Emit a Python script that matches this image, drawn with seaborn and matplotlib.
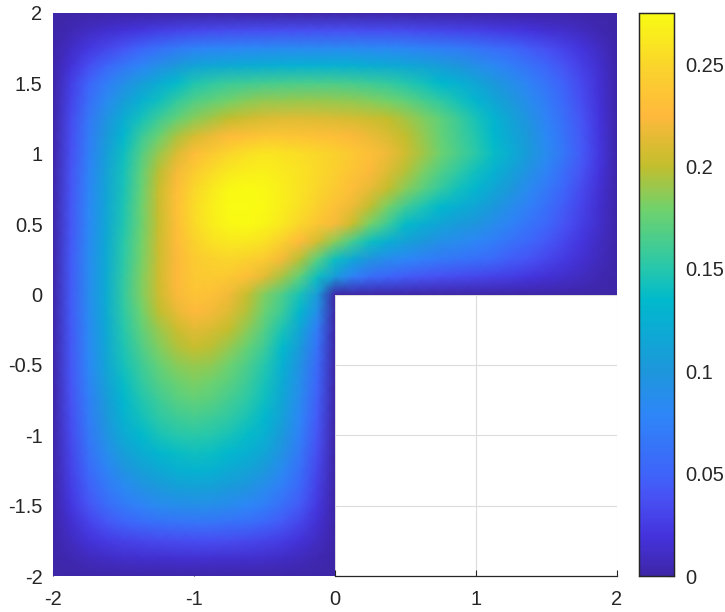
import numpy as np
import pandas as pd
import matplotlib.pyplot as plt
from matplotlib.colors import LinearSegmentedColormap
from matplotlib.patches import Polygon
import seaborn as sns

# grid axes of the surface (step 0.125)
x_values = [-2, -1.875, -1.75, -1.625, -1.5, -1.375, -1.25, -1.125, -1, -0.875, -0.75, -0.625, -0.5,
            -0.375, -0.25, -0.125, 0, 0.125, 0.25, 0.375, 0.5, 0.625, 0.75, 0.875, 1, 1.125, 1.25,
            1.375, 1.5, 1.625, 1.75, 1.875, 2]
y_values = x_values[::-1]

# values, y = 2 down to y = 0, full width
upper_rows = [
    [0] * 33,
    [0, .005, .010, .014, .018, .022, .026, .030, .033, .034, .035, .036, .036, .037, .037, .037, .037, .037, .036, .036, .035, .033, .032, .030, .028, .025, .023, .020, .016, .013, .009, .004, 0],
    [0, .011, .022, .031, .040, .050, .060, .068, .075, .078, .080, .081, .082, .083, .083, .083, .083, .083, .082, .081, .079, .076, .073, .069, .064, .058, .052, .045, .037, .029, .020, .010, 0],
    [0, .018, .036, .051, .065, .078, .091, .102, .112, .117, .120, .122, .124, .125, .126, .126, .126, .125, .123, .120, .117, .112, .106, .099, .091, .082, .072, .062, .051, .039, .027, .014, 0],
    [0, .026, .050, .071, .090, .107, .122, .136, .148, .154, .158, .161, .163, .164, .165, .165, .165, .163, .160, .156, .150, .143, .135, .126, .115, .103, .090, .077, .063, .048, .033, .017, 0],
    [0, .030, .058, .083, .106, .125, .141, .155, .167, .174, .180, .185, .188, .189, .190, .190, .189, .187, .184, .180, .173, .164, .154, .143, .130, .116, .101, .086, .070, .053, .036, .018, 0],
    [0, .034, .065, .095, .122, .143, .160, .174, .185, .193, .200, .206, .210, .212, .212, .211, .210, .208, .205, .200, .193, .183, .172, .159, .145, .129, .112, .095, .077, .059, .040, .020, 0],
    [0, .036, .069, .102, .132, .157, .177, .194, .208, .218, .227, .232, .236, .236, .234, .232, .229, .224, .218, .210, .200, .188, .175, .162, .149, .134, .117, .100, .081, .062, .042, .021, 0],
    [0, .037, .072, .107, .140, .167, .190, .210, .228, .240, .250, .256, .260, .258, .255, .251, .246, .239, .230, .219, .206, .192, .178, .165, .152, .138, .122, .104, .085, .065, .044, .022, 0],
    [0, .039, .076, .110, .143, .172, .198, .221, .241, .253, .263, .266, .267, .263, .258, .252, .244, .235, .224, .211, .197, .182, .167, .154, .141, .127, .111, .094, .077, .058, .039, .020, 0],
    [0, .040, .078, .112, .145, .175, .203, .228, .250, .263, .272, .274, .272, .266, .258, .250, .240, .228, .215, .200, .185, .170, .155, .142, .130, .116, .100, .084, .068, .051, .034, .017, 0],
    [0, .041, .080, .114, .147, .177, .204, .230, .253, .266, .274, .276, .273, .266, .256, .245, .233, .217, .199, .181, .161, .147, .134, .124, .114, .102, .088, .074, .060, .045, .030, .015, 0],
    [0, .041, .080, .115, .148, .177, .203, .229, .252, .265, .272, .274, .270, .262, .250, .237, .222, .203, .180, .158, .137, .124, .113, .105, .098, .088, .076, .064, .052, .039, .026, .013, 0],
    [0, .042, .082, .118, .151, .179, .205, .227, .247, .257, .262, .262, .257, .244, .226, .207, .185, .162, .140, .124, .110, .100, .091, .085, .079, .071, .061, .052, .042, .032, .021, .010, 0],
    [0, .043, .083, .119, .152, .180, .205, .224, .240, .247, .250, .247, .240, .221, .197, .170, .140, .117, .097, .087, .080, .074, .068, .064, .060, .054, .046, .040, .032, .024, .016, .008, 0],
    [0, .044, .084, .120, .154, .182, .206, .225, .239, .241, .238, .230, .213, .193, .172, .140, .105, .075, .058, .050, .045, .040, .037, .034, .032, .029, .025, .021, .017, .013, .009, .004, 0],
    [0, .044, .085, .121, .155, .182, .205, .223, .235, .231, .220, .203, .183, .166, .145, .105, 0, 0, 0, 0, 0, 0, 0, 0, 0, 0, 0, 0, 0, 0, 0, 0, 0],
]

# y = -0.125 down to y = -2, only x <= 0 is part of the domain
lower_rows = [
    [0, .043, .084, .120, .153, .178, .199, .215, .225, .221, .211, .196, .177, .158, .132, .090, 0],
    [0, .042, .082, .118, .150, .172, .190, .204, .213, .209, .200, .186, .168, .146, .115, .070, 0],
    [0, .042, .081, .116, .147, .166, .183, .195, .202, .198, .189, .176, .159, .136, .105, .062, 0],
    [0, .041, .080, .113, .143, .160, .175, .185, .190, .187, .178, .166, .150, .126, .095, .055, 0],
    [0, .040, .077, .109, .138, .154, .168, .177, .182, .178, .170, .160, .145, .121, .090, .051, 0],
    [0, .038, .073, .104, .133, .148, .160, .169, .173, .170, .162, .153, .140, .116, .085, .047, 0],
    [0, .036, .070, .099, .127, .142, .153, .160, .163, .160, .154, .146, .133, .110, .080, .044, 0],
    [0, .034, .066, .094, .120, .134, .145, .150, .152, .150, .145, .137, .125, .103, .075, .040, 0],
    [0, .031, .061, .086, .108, .122, .132, .138, .141, .139, .133, .125, .114, .094, .068, .036, 0],
    [0, .028, .054, .076, .095, .108, .118, .125, .128, .126, .120, .112, .102, .083, .060, .032, 0],
    [0, .025, .047, .066, .082, .093, .102, .107, .110, .108, .103, .096, .087, .071, .052, .027, 0],
    [0, .021, .040, .055, .068, .077, .085, .088, .090, .089, .085, .080, .072, .059, .043, .022, 0],
    [0, .015, .029, .040, .049, .055, .060, .062, .063, .063, .060, .057, .051, .042, .031, .016, 0],
    [0, .009, .018, .024, .029, .032, .034, .035, .036, .036, .035, .033, .030, .025, .018, .010, 0],
    [0, .004, .008, .011, .013, .014, .015, .016, .016, .016, .015, .015, .013, .011, .008, .004, 0],
    [0] * 17,
]

x_ticks = [-2, -1, 0, 1, 2]
y_ticks = [-2, -1.5, -1, -0.5, 0, 0.5, 1, 1.5, 2]
cbar_ticks = [0, 0.05, 0.1, 0.15, 0.2, 0.25]
cbar_labels = ['0', '0.05', '0.1', '0.15', '0.2', '0.25']

# parula-like colormap, colours picked from the colorbar
parula_pos = [0, .07, .14, .18, .29, .36, .49, .55, .65, .73, .82, .90, 1]
parula_rgb = [(62, 38, 168), (68, 51, 221), (72, 82, 244), (62, 100, 250), (45, 135, 247),
              (30, 150, 220), (0, 185, 205), (40, 200, 170), (110, 210, 110), (195, 190, 45),
              (255, 185, 60), (250, 210, 45), (249, 251, 20)]
parula = LinearSegmentedColormap.from_list(
    'parula', [(p, tuple(c / 255 for c in rgb)) for p, rgb in zip(parula_pos, parula_rgb)], N=256)

sns.set_theme(style='white')
plt.rcParams['font.family'] = ['Liberation Sans', 'DejaVu Sans']
text_color = '#262626'

rows = upper_rows + [r + [np.nan] * 16 for r in lower_rows]
df = pd.DataFrame(rows, index=y_values, columns=x_values)

fig = plt.figure(figsize=(7.25, 6.12), dpi=100)
ax = fig.add_axes([53 / 725, 1 - 576 / 612, 564 / 725, 563 / 612])
cax = fig.add_axes([639 / 725, 1 - 576 / 612, 35 / 725, 563 / 612])

sns.heatmap(df, ax=ax, cbar_ax=cax, cmap=parula, vmin=0, vmax=0.275, shading='gouraud',
            xticklabels=False, yticklabels=False)

# the gouraud mesh uses grid nodes, so index coordinates run 0..32
ax.set_xlim(0, 32)
ax.set_ylim(32, 0)

# L-shaped domain
mesh = ax.collections[0]
mesh.set_clip_path(Polygon([(0, 0), (32, 0), (32, 16), (16, 16), (16, 32), (0, 32)], transform=ax.transData))

ax.set_xticks([x_values.index(v) for v in x_ticks])
ax.set_xticklabels([f'{v:g}' for v in x_ticks])
ax.set_yticks([y_values.index(v) for v in y_ticks])
ax.set_yticklabels([f'{v:g}' for v in y_ticks], rotation=0)
ax.tick_params(axis='x', direction='in', length=4.3, width=0.8, color=text_color, labelsize=14.4,
               labelcolor=text_color, pad=10, bottom=True)
ax.tick_params(axis='y', length=0, labelsize=14.4, labelcolor=text_color, pad=7.5)
ax.grid(True, color='#dcdcdc', linewidth=0.8)
ax.set_axisbelow(True)
for side in ['top', 'left', 'right']:
    ax.spines[side].set_visible(False)
ax.spines['bottom'].set_visible(True)
ax.spines['bottom'].set_color(text_color)
ax.spines['bottom'].set_linewidth(0.9)
ax.spines['bottom'].set_bounds(16, 32)

cax.set_yticks(cbar_ticks)
cax.set_yticklabels(cbar_labels)
cax.tick_params(axis='y', direction='in', length=5, width=0.8, color=text_color, labelsize=14.4,
                labelcolor=text_color, pad=8, right=True, left=False)
for spine in cax.spines.values():
    spine.set_visible(True)
    spine.set_color(text_color)
    spine.set_linewidth(0.9)

fig.savefig('out.png', dpi=100)
